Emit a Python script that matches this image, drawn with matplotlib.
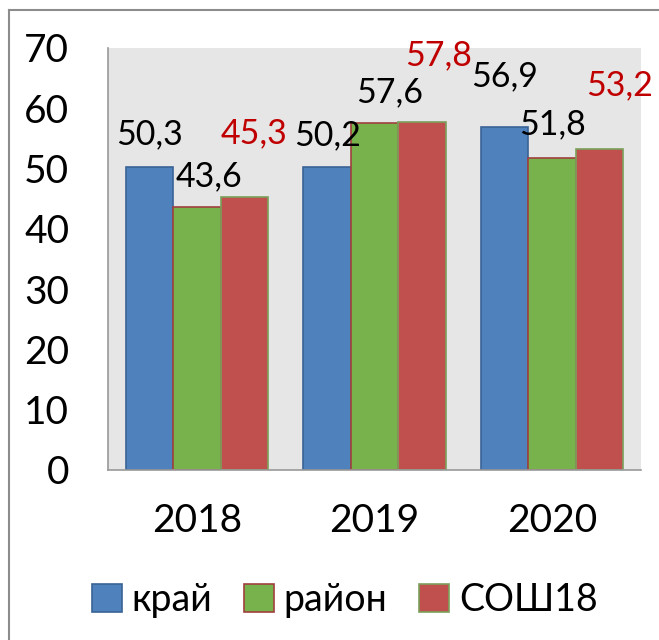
import matplotlib.pyplot as plt
import matplotlib.patches as mpatches
from matplotlib.lines import Line2D
import numpy as np

years = ['2018', '2019', '2020']
series = ['край', 'район', 'СОШ18']
kray = [50.3, 50.2, 56.9]
rayon = [43.6, 57.6, 51.8]
sosh = [45.3, 57.8, 53.2]

face = ['#4F81BD', '#77B24C', '#C0504D']
edge = ['#3A6396', '#A0403D', '#7BA05B']
label_col = ['black', 'black', '#C00000']
# label offsets in pixels from bar top (Excel placed them unevenly)
offs = [
    [(0, 32), (0, 32), (0, 51)],
    [(12, 31), (15, 30), (0, 33)],
    [(10, 64), (17, 66), (20, 64)],
]

plt.rcParams['font.family'] = ['Lato', 'DejaVu Sans']

fig = plt.figure(figsize=(6.59, 6.4), dpi=100)
ax = fig.add_axes([108 / 659, 1 - 470 / 640, 533 / 659, 422 / 640])
ax.set_facecolor('#E6E6E6')

x = np.arange(len(years))
w = 0.267
for i, vals in enumerate([kray, rayon, sosh]):
    bars = ax.bar(x + (i - 1) * w, vals, w, color=face[i], edgecolor=edge[i],
                  linewidth=1.2, label=series[i], zorder=2)
    for j, b in enumerate(bars):
        ax.annotate(f'{vals[j]:.1f}'.replace('.', ','),
                    xy=(b.get_x() + b.get_width() / 2, b.get_height()),
                    xytext=offs[i][j], textcoords='offset pixels',
                    ha='center', va='center', fontsize=24.5,
                    color=label_col[i], annotation_clip=False, zorder=3)

ax.set_xlim(-0.5, 2.5)
ax.set_ylim(0, 70)
ax.set_yticks(range(0, 71, 10))
ax.set_xticks(x)
ax.set_xticklabels(years)
ax.tick_params(axis='y', length=0, pad=28, labelsize=28)
ax.tick_params(axis='x', length=0, pad=24, labelsize=28)
for s in ['top', 'right']:
    ax.spines[s].set_visible(False)
for s in ['left', 'bottom']:
    ax.spines[s].set_color('#999999')
    ax.spines[s].set_linewidth(1.2)

handles = [mpatches.Patch(facecolor=face[i], edgecolor=edge[i], linewidth=1.2)
           for i in range(3)]
fig.legend(handles, series, loc='center', bbox_to_anchor=(345 / 659, 1 - 600 / 640),
           ncol=3, frameon=False, fontsize=27, handlelength=0.8, handleheight=0.8,
           handletextpad=0.25, columnspacing=0.85)

# outer chart frame (only left and top visible)
fig.add_artist(Line2D([9 / 659, 9 / 659], [0, 1 - 10 / 640], color='#8C8C8C', lw=1.5))
fig.add_artist(Line2D([9 / 659, 1], [1 - 10 / 640, 1 - 10 / 640], color='#8C8C8C', lw=1.5))

fig.savefig('out.png', dpi=100)
